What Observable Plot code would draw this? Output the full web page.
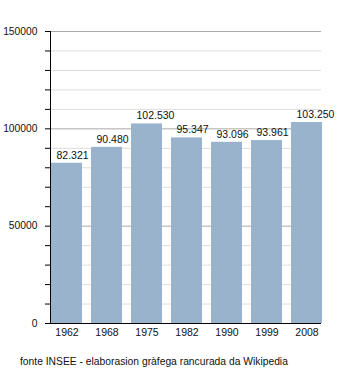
<!DOCTYPE html>
<html>
<head>
<meta charset="utf-8">
<script src="https://cdn.jsdelivr.net/npm/d3@7"></script>
<script src="https://cdn.jsdelivr.net/npm/@observablehq/plot@0.6"></script>
<style>
  html, body { margin: 0; padding: 0; background: #fff; }
  #wrap { position: relative; width: 350px; height: 373px; font-family: "Liberation Sans", Arial, sans-serif; }
  #caption { position: absolute; left: 20px; top: 356px; font-size: 10.3px; line-height: 12px; color: #111; white-space: nowrap; }
</style>
</head>
<body>
<div id="wrap">
  <div id="chart"></div>
  <div id="caption">fonte INSEE - elaborasion gràfega rancurada da Wikipedia</div>
</div>
<script>
const years = ["1962", "1968", "1975", "1982", "1990", "1999", "2008"];
const population = [82321, 90480, 102530, 95347, 93096, 93961, 103250];
const valueLabels = ["82.321", "90.480", "102.530", "95.347", "93.096", "93.961", "103.250"];
const majorTicks = [0, 50000, 100000, 150000];
const minorTicks = [10000, 20000, 30000, 40000, 60000, 70000, 80000, 90000, 110000, 120000, 130000, 140000];
const allTicks = [0, 10000, 20000, 30000, 40000, 50000, 60000, 70000, 80000, 90000, 100000, 110000, 120000, 130000, 140000, 150000];

const data = years.map((y, i) => ({year: y, pop: population[i], label: valueLabels[i]}));

const chart = Plot.plot({
  width: 350,
  height: 345,
  marginLeft: 50,
  marginRight: 29,
  marginTop: 31,
  marginBottom: 22,
  style: {fontFamily: "Liberation Sans, Arial, sans-serif", fontSize: "10.3px", color: "#111", background: "#fff"},
  x: {domain: years, range: [51, 322], paddingInner: 0.225, paddingOuter: 0, label: null},
  y: {domain: [0, 150000], label: null},
  marks: [
    Plot.ruleY(minorTicks, {stroke: "#dddddd", strokeWidth: 1}),
    Plot.ruleY(majorTicks.slice(1), {stroke: "#aaaaaa", strokeWidth: 1}),
    Plot.barY(data, {x: "year", y: "pop", fill: "#99b3cc"}),
    Plot.text(data, {x: "year", y: "pop", text: "label", dy: -8, dx: -10.5, textAnchor: "start", fontSize: 10.5, fill: "#111"}),
    Plot.axisY({ticks: allTicks, tickSize: 5, tickPadding: 8, stroke: "#000", fill: "#111", strokeOpacity: 1,
                tickFormat: d => (d % 50000 === 0 ? String(d) : ""), fontSize: 10.3}),
    Plot.axisX({tickSize: 0, tickPadding: 5, fill: "#111", fontSize: 10.5}),
    Plot.ruleY([0], {stroke: "#000", strokeWidth: 1}),
    Plot.frame({anchor: "left", stroke: "#000", strokeWidth: 1})
  ]
});
document.getElementById("chart").appendChild(chart);
</script>
</body>
</html>
